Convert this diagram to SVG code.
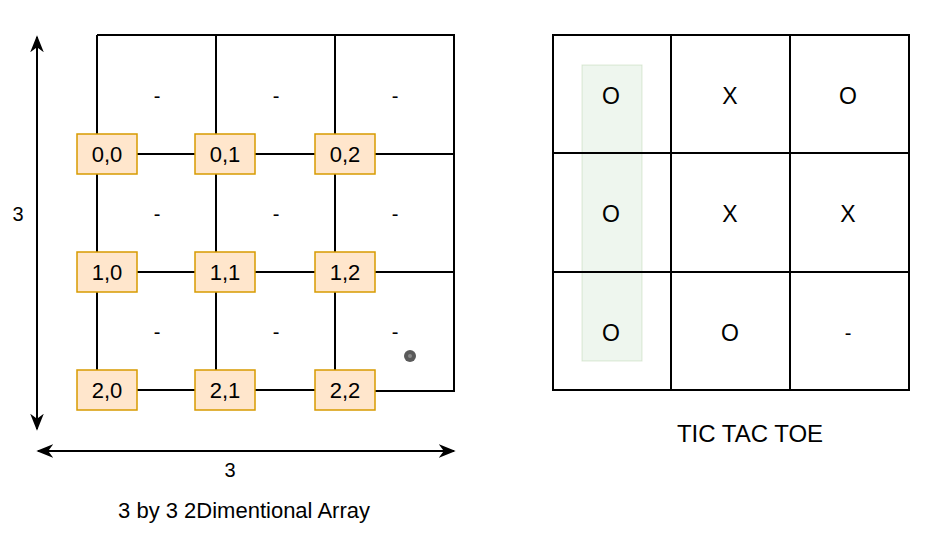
<svg xmlns="http://www.w3.org/2000/svg" width="936" height="553" viewBox="0 0 936 553">
<style>
.ln{stroke:#000;stroke-width:2;fill:none}
.nd{fill:#ffe6cc;stroke:#d79b00;stroke-width:1.5}
.t{font-family:"Liberation Sans",Arial,sans-serif;font-size:22px;fill:#000;text-anchor:middle;dominant-baseline:central}
.s{font-size:20px}
.b{font-size:23px}
</style>
<defs>
<marker id="ah" viewBox="0 0 20 20" refX="18" refY="10" markerWidth="17" markerHeight="17" markerUnits="userSpaceOnUse" orient="auto-start-reverse">
<path d="M0,2 L20,10 L0,18 L6,10 Z" fill="#000"/>
</marker>
</defs>
<rect width="936" height="553" fill="#fff"/>
<g id="connectors">
<path class="ln" d="M97,35 H454 V391 H375 M97,35 V134 M216,35 V134 M335,35 V134 M137,154 H195 M255,154 H315 M375,154 H454 M97,174 V252 M216,174 V252 M335,174 V252 M137,272 H195 M255,272 H315 M375,272 H454 M97,292 V370 M216,292 V370 M335,292 V370 M137,390 H195 M255,390 H315"/>
<line class="ln" x1="37" y1="37" x2="37" y2="429" marker-start="url(#ah)" marker-end="url(#ah)"/>
<line class="ln" x1="38" y1="451" x2="454" y2="451" marker-start="url(#ah)" marker-end="url(#ah)"/>
</g>
<g id="cells-left">
<text class="t s" x="157" y="96">-</text><text class="t s" x="276" y="96">-</text><text class="t s" x="395" y="96">-</text>
<text class="t s" x="157" y="214">-</text><text class="t s" x="276" y="214">-</text><text class="t s" x="395" y="214">-</text>
<text class="t s" x="157" y="332">-</text><text class="t s" x="276" y="332">-</text><text class="t s" x="395" y="332">-</text>
</g>
<g id="n00"><rect class="nd" x="77" y="134" width="60" height="40"/><text class="t" x="107" y="154">0,0</text></g>
<g id="n01"><rect class="nd" x="195" y="134" width="60" height="40"/><text class="t" x="225" y="154">0,1</text></g>
<g id="n02"><rect class="nd" x="315" y="134" width="60" height="40"/><text class="t" x="345" y="154">0,2</text></g>
<g id="n10"><rect class="nd" x="77" y="252" width="60" height="40"/><text class="t" x="107" y="272">1,0</text></g>
<g id="n11"><rect class="nd" x="195" y="252" width="60" height="40"/><text class="t" x="225" y="272">1,1</text></g>
<g id="n12"><rect class="nd" x="315" y="252" width="60" height="40"/><text class="t" x="345" y="272">1,2</text></g>
<g id="n20"><rect class="nd" x="77" y="370" width="60" height="40"/><text class="t" x="107" y="390">2,0</text></g>
<g id="n21"><rect class="nd" x="195" y="370" width="60" height="40"/><text class="t" x="225" y="390">2,1</text></g>
<g id="n22"><rect class="nd" x="315" y="370" width="60" height="40"/><text class="t" x="345" y="390">2,2</text></g>
<g id="dot"><circle cx="410" cy="356" r="6" fill="#5a5a5a"/><circle cx="410" cy="356" r="2" fill="#8a8a8a"/></g>
<g id="labels">
<text class="t s" x="18" y="214">3</text>
<text class="t s" x="230" y="470">3</text>
<text class="t" x="244" y="510">3 by 3 2Dimentional Array</text>
<text class="t" x="750" y="433" style="font-size:24px">TIC TAC TOE</text>
</g>
<g id="ttt">
<rect x="553" y="35" width="356" height="355" fill="#fff" stroke="#000" stroke-width="2"/>
<rect x="582" y="65" width="60" height="296" fill="#d5e8d4" fill-opacity="0.4" stroke="#82b366" stroke-opacity="0.25"/>
<path class="ln" d="M671,35 V390 M790,35 V390 M553,153 H909 M553,272 H909"/>
<text class="t b" x="611" y="96">O</text><text class="t b" x="730" y="96">X</text><text class="t b" x="848" y="96">O</text>
<text class="t b" x="611" y="214">O</text><text class="t b" x="730" y="214">X</text><text class="t b" x="848" y="214">X</text>
<text class="t b" x="611" y="333">O</text><text class="t b" x="730" y="333">O</text><text class="t s" x="848" y="333">-</text>
</g>
</svg>
